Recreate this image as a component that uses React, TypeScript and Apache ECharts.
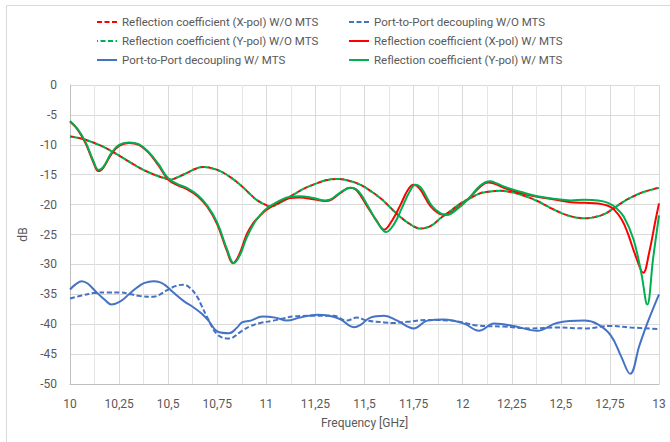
import React, { useEffect, useRef } from "react";
import * as echarts from "echarts";

const xTicks = [10, 10.25, 10.5, 10.75, 11, 11.25, 11.5, 11.75, 12, 12.25, 12.5, 12.75, 13];
const yTicks = [0, -5, -10, -15, -20, -25, -30, -35, -40, -45, -50];

const reflWoFreq = [10.0, 10.05, 10.1, 10.18, 10.255, 10.32, 10.374, 10.43, 10.476, 10.51, 10.55, 10.595, 10.64, 10.68, 10.72, 10.765, 10.82, 10.867, 10.91, 10.95, 11.0, 11.02, 11.08, 11.14, 11.2, 11.26, 11.31, 11.36, 11.42, 11.48, 11.53, 11.58, 11.62, 11.66, 11.72, 11.786, 11.84, 11.89, 11.94, 11.99, 12.04, 12.09, 12.14, 12.19, 12.245, 12.31, 12.38, 12.45, 12.517, 12.57, 12.62, 12.67, 12.72, 12.77, 12.82, 12.87, 12.93, 13.0];
const reflWoX = [-8.6, -8.9, -9.4, -10.5, -11.9, -13.2, -14.2, -15.0, -15.55, -15.8, -15.4, -14.7, -14.0, -13.7, -13.9, -14.4, -15.5, -16.7, -18.0, -19.2, -20.1, -20.3, -19.5, -18.3, -17.2, -16.4, -15.9, -15.7, -16.0, -16.7, -17.7, -18.9, -20.1, -21.4, -23.0, -24.0, -23.5, -22.2, -21.0, -19.8, -18.9, -18.1, -17.8, -17.7, -17.9, -18.5, -19.4, -20.6, -21.6, -22.1, -22.3, -22.1, -21.6, -20.6, -19.5, -18.6, -17.8, -17.2];
const reflWoY = [-8.6, -8.9, -9.4, -10.5, -11.9, -13.2, -14.2, -15.0, -15.5, -15.8, -15.4, -14.7, -14.0, -13.7, -13.9, -14.4, -15.5, -16.7, -18.0, -19.2, -20.1, -20.3, -19.5, -18.3, -17.2, -16.4, -15.9, -15.7, -16.0, -16.7, -17.7, -18.9, -20.1, -21.4, -23.0, -24.0, -23.5, -22.2, -21.0, -19.8, -18.9, -18.1, -17.8, -17.7, -17.9, -18.5, -19.4, -20.6, -21.6, -22.1, -22.3, -22.1, -21.6, -20.6, -19.5, -18.6, -17.8, -17.2];

const reflXFreq = [10.0, 10.04, 10.08, 10.12, 10.145, 10.17, 10.21, 10.25, 10.3, 10.35, 10.4, 10.45, 10.5, 10.55, 10.595, 10.65, 10.7, 10.75, 10.8, 10.83, 10.86, 10.9, 10.935, 10.97, 11.0, 11.07, 11.12, 11.17, 11.24, 11.3, 11.33, 11.38, 11.425, 11.46, 11.514, 11.56, 11.6, 11.64, 11.684, 11.72, 11.75, 11.78, 11.837, 11.88, 11.913, 11.96, 12.024, 12.09, 12.13, 12.16, 12.22, 12.3, 12.38, 12.46, 12.55, 12.62, 12.69, 12.74, 12.77, 12.81, 12.84, 12.88, 12.92, 12.95, 12.98, 13.0];
const reflX = [-6.1, -7.5, -9.8, -13.0, -14.4, -13.8, -11.6, -10.2, -9.7, -10.0, -11.3, -13.4, -15.8, -16.8, -17.4, -18.6, -20.4, -23.3, -27.8, -29.8, -28.5, -25.0, -23.0, -21.8, -20.9, -19.5, -18.9, -18.8, -19.1, -19.4, -19.2, -18.0, -17.2, -17.6, -20.3, -22.6, -24.2, -22.7, -20.0, -17.6, -16.7, -17.3, -20.3, -21.5, -21.7, -20.9, -19.2, -17.0, -16.3, -16.5, -17.3, -18.1, -18.7, -19.1, -19.6, -19.7, -19.8, -20.2, -20.8, -22.5, -24.7, -28.5, -31.4, -28.0, -23.0, -19.8];

const reflYFreq = [10.0, 10.04, 10.08, 10.12, 10.145, 10.17, 10.21, 10.25, 10.3, 10.35, 10.4, 10.45, 10.5, 10.55, 10.595, 10.65, 10.7, 10.75, 10.8, 10.835, 10.865, 10.9, 10.94, 10.97, 11.0, 11.07, 11.12, 11.17, 11.24, 11.3, 11.33, 11.38, 11.43, 11.47, 11.52, 11.57, 11.61, 11.65, 11.69, 11.73, 11.76, 11.79, 11.845, 11.89, 11.92, 11.97, 12.03, 12.09, 12.14, 12.17, 12.22, 12.3, 12.38, 12.46, 12.55, 12.62, 12.69, 12.74, 12.78, 12.82, 12.87, 12.91, 12.94, 12.97, 13.0];
const reflY = [-6.0, -7.4, -9.6, -12.8, -14.2, -13.7, -11.4, -10.0, -9.6, -9.9, -11.2, -13.2, -15.6, -16.6, -17.2, -18.4, -20.2, -23.0, -27.5, -29.8, -28.5, -25.5, -23.0, -21.7, -20.7, -19.3, -18.7, -18.6, -18.9, -19.3, -19.1, -17.9, -17.2, -17.8, -20.4, -23.2, -24.6, -23.3, -20.6, -17.8, -16.7, -17.3, -20.3, -21.5, -21.7, -20.8, -19.0, -16.8, -16.1, -16.4, -17.1, -17.9, -18.6, -19.0, -19.3, -19.2, -19.3, -19.7, -20.5, -22.0, -25.8, -31.5, -36.7, -29.0, -21.8];

const decWFreq = [10.0, 10.03, 10.06, 10.09, 10.136, 10.18, 10.21, 10.26, 10.3, 10.34, 10.38, 10.425, 10.46, 10.49, 10.53, 10.578, 10.63, 10.67, 10.7, 10.757, 10.81, 10.85, 10.876, 10.92, 10.98, 11.046, 11.105, 11.17, 11.26, 11.32, 11.378, 11.445, 11.48, 11.53, 11.6, 11.667, 11.75, 11.82, 11.905, 12.007, 12.083, 12.16, 12.26, 12.38, 12.48, 12.62, 12.687, 12.755, 12.806, 12.853, 12.9, 12.942, 13.0];
const decW = [-34.2, -33.3, -32.8, -33.2, -34.7, -36.0, -36.7, -36.1, -35.0, -33.9, -33.1, -32.8, -33.0, -33.6, -34.8, -36.1, -37.2, -38.2, -39.2, -41.3, -41.5, -40.6, -39.7, -39.4, -38.7, -38.9, -39.4, -38.9, -38.4, -38.6, -39.2, -40.5, -40.1, -38.9, -38.6, -39.4, -40.7, -39.4, -39.2, -39.9, -41.1, -39.9, -40.3, -41.1, -39.8, -39.4, -40.0, -41.9, -45.3, -48.3, -43.6, -39.7, -35.0];

const decWoFreq = [10.0, 10.06, 10.12, 10.19, 10.255, 10.31, 10.357, 10.425, 10.46, 10.49, 10.54, 10.578, 10.61, 10.646, 10.67, 10.7, 10.75, 10.81, 10.876, 10.92, 10.97, 11.037, 11.09, 11.14, 11.24, 11.343, 11.41, 11.46, 11.514, 11.6, 11.65, 11.718, 11.82, 11.94, 12.075, 12.21, 12.347, 12.48, 12.62, 12.755, 12.857, 13.0];
const decWo = [-35.7, -35.2, -34.8, -34.7, -34.7, -35.0, -35.3, -35.4, -35.0, -34.4, -33.6, -33.4, -33.9, -35.3, -36.9, -38.9, -41.7, -42.4, -41.1, -40.3, -39.8, -39.4, -39.0, -38.7, -38.6, -38.6, -39.4, -38.9, -39.4, -39.7, -39.8, -39.6, -39.3, -39.4, -40.2, -40.4, -40.7, -40.55, -40.7, -40.3, -40.55, -40.8];

const names = {
  rxWo: "Reflection coefficient (X-pol) W/O MTS",
  decWo: "Port-to-Port decoupling W/O MTS",
  ryWo: "Reflection coefficient (Y-pol) W/O MTS",
  rxW: "Reflection coefficient (X-pol) W/ MTS",
  decW: "Port-to-Port decoupling W/ MTS",
  ryW: "Reflection coefficient (Y-pol) W/ MTS",
};

const RED = "#ff0000";
const GREEN = "#00b050";
const BLUE = "#4472c4";
const FONT = "Roboto, 'Liberation Sans', sans-serif";

const zip = (xs: number[], ys: number[]) => xs.map((x, i) => [x, ys[i]]);

export default function App() {
  const ref = useRef<HTMLDivElement>(null);
  useEffect(() => {
    if (!ref.current) return;
    const chart = echarts.init(ref.current, undefined, { renderer: "svg" });
    const line = (name: string, xs: number[], ys: number[], color: string, dashed: boolean, offset = 0, z = 2) => ({
      name,
      type: "line",
      data: zip(xs, ys),
      smooth: 0.4,
      symbol: "none",
      z,
      lineStyle: {
        color,
        width: 2,
        type: dashed ? [5, 2.5] : "solid",
        dashOffset: offset,
      },
      itemStyle: { color },
    });
    const legendBase = {
      orient: "vertical",
      top: 11,
      itemWidth: 20,
      itemHeight: 14,
      itemGap: 7,
      itemStyle: { opacity: 0 },
      textStyle: { fontFamily: FONT, fontSize: 11.5, color: "#595959" },
    };
    chart.setOption({
      animation: false,
      backgroundColor: "#ffffff",
      textStyle: { fontFamily: FONT },
      graphic: [
        {
          type: "rect",
          shape: { x: 6.5, y: 5.5, width: 700, height: 500 },
          style: { fill: "none", stroke: "#d9d9d9", lineWidth: 1 },
          z: -10,
          silent: true,
        },
      ],
      legend: [
        { ...legendBase, left: 91, data: [names.rxWo, names.ryWo, names.decW] },
        { ...legendBase, left: 343, data: [names.decWo, names.rxW, names.ryW] },
      ],
      grid: { left: 70, right: 11, top: 85, bottom: 58 },
      xAxis: {
        type: "value",
        min: xTicks[0],
        max: xTicks[xTicks.length - 1],
        interval: 0.25,
        name: "Frequency [GHz]",
        nameLocation: "middle",
        nameGap: 33,
        nameTextStyle: { fontFamily: FONT, fontSize: 12, color: "#595959" },
        axisLine: { show: true, onZero: false, lineStyle: { color: "#bfbfbf", width: 1 } },
        axisTick: { show: false },
        axisLabel: {
          margin: 14,
          fontFamily: FONT,
          fontSize: 12,
          color: "#595959",
          formatter: (v: number) => String(v).replace(".", ","),
        },
        splitLine: { show: true, lineStyle: { color: "#d9d9d9", width: 1 } },
        minorTick: { show: false, splitNumber: 2 },
        minorSplitLine: { show: true, lineStyle: { color: "#e6e6e6", width: 1 } },
      },
      yAxis: {
        type: "value",
        min: yTicks[yTicks.length - 1],
        max: yTicks[0],
        interval: 5,
        name: "dB",
        nameLocation: "middle",
        nameGap: 41,
        nameTextStyle: { fontFamily: FONT, fontSize: 12, color: "#595959" },
        axisLine: { show: true, lineStyle: { color: "#bfbfbf", width: 1 } },
        axisTick: { show: false },
        axisLabel: { margin: 13, fontFamily: FONT, fontSize: 12, color: "#595959" },
        splitLine: { show: true, lineStyle: { color: "#d9d9d9", width: 1 } },
      },
      series: [
        line(names.rxWo, reflWoFreq, reflWoX, RED, true, 0, 3),
        line(names.decWo, decWoFreq, decWo, BLUE, true, 0, 3),
        line(names.ryWo, reflWoFreq, reflWoY, GREEN, true, 3.5, 4),
        line(names.rxW, reflXFreq, reflX, RED, false, 0, 5),
        line(names.decW, decWFreq, decW, BLUE, false, 0, 5),
        line(names.ryW, reflYFreq, reflY, GREEN, false, 0, 6),
      ],
    });
    return () => chart.dispose();
  }, []);
  return (
    <div
      ref={ref}
      style={{ position: "absolute", left: 0, top: 0, width: 670, height: 442 }}
    />
  );
}
